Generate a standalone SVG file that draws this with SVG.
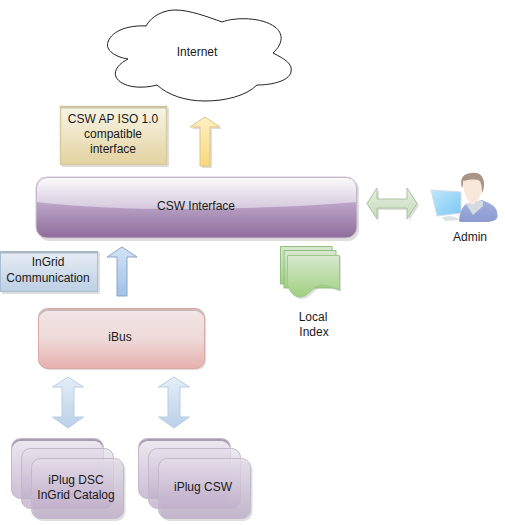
<svg xmlns="http://www.w3.org/2000/svg" width="505" height="525" viewBox="0 0 505 525">
<defs>
<linearGradient id="gP" x1="0" y1="0" x2="0" y2="1"><stop offset="0.4" stop-color="#bda8ca"/><stop offset="1" stop-color="#8f6c9b"/></linearGradient>
<linearGradient id="gPt" x1="0" y1="0" x2="0" y2="1"><stop offset="0" stop-color="#fbfafc"/><stop offset="1" stop-color="#d4c8dc"/></linearGradient>
<linearGradient id="gR" x1="0" y1="0" x2="0" y2="1"><stop offset="0" stop-color="#f1e6e6"/><stop offset="0.5" stop-color="#eedad9"/><stop offset="1" stop-color="#e6b0ae"/></linearGradient>
<linearGradient id="gY" x1="0" y1="0" x2="0" y2="1"><stop offset="0" stop-color="#f8f5e8"/><stop offset="1" stop-color="#e3d39f"/></linearGradient>
<linearGradient id="gB" x1="0" y1="0" x2="0" y2="1"><stop offset="0" stop-color="#e8eef5"/><stop offset="1" stop-color="#bccfe4"/></linearGradient>
<linearGradient id="gL" x1="0" y1="0" x2="0" y2="1"><stop offset="0" stop-color="#e6dfea"/><stop offset="1" stop-color="#b9a5c5"/></linearGradient>
<linearGradient id="gG" x1="0" y1="0" x2="0" y2="1"><stop offset="0" stop-color="#d8e8d0"/><stop offset="1" stop-color="#9fd07f"/></linearGradient>
<linearGradient id="aY" x1="0" y1="0" x2="0" y2="1"><stop offset="0" stop-color="#fdf0c4"/><stop offset="1" stop-color="#fbd77a"/></linearGradient>
<linearGradient id="aB" x1="0" y1="0" x2="0" y2="1"><stop offset="0" stop-color="#d3e3f5"/><stop offset="1" stop-color="#a0c1e8"/></linearGradient>
<linearGradient id="aD" x1="0" y1="0" x2="0" y2="1"><stop offset="0" stop-color="#e4eef8"/><stop offset="0.5" stop-color="#cfdfef"/><stop offset="1" stop-color="#b9d0e9"/></linearGradient>
<linearGradient id="aG" x1="0" y1="0" x2="0" y2="1"><stop offset="0" stop-color="#e6efe1"/><stop offset="1" stop-color="#c6dabc"/></linearGradient>
<linearGradient id="scr" x1="0" y1="0" x2="1" y2="1"><stop offset="0" stop-color="#bfe6fb"/><stop offset="1" stop-color="#7cc8f4"/></linearGradient>
<linearGradient id="sw" x1="0" y1="0" x2="0" y2="1"><stop offset="0" stop-color="#a3b1de"/><stop offset="1" stop-color="#8a9ad0"/></linearGradient>
<path id="ud" d="M0 -26L15.500 -16H6V14H15.500L0 25L-15.500 14H-6V-16H-15.500Z"/>
</defs>
<style>
text{font-family:"Liberation Sans",Arial,sans-serif;font-size:12px;fill:#1a1a1a;text-anchor:middle}
.s{fill:#000;opacity:.13}
.pl{fill:url(#gL);stroke:#c4b8cc;stroke-width:1;fill-opacity:.72}
</style>
<g id="connectors">
<g id="arrow-up-yellow">
<path class="s" d="M205 117L220 127H210V166H200V127H190Z" transform="translate(2,2)"/>
<path d="M205 117L220 127H210V166H200V127H190Z" fill="url(#aY)" stroke="#dcc688"/>
</g>
<g id="arrow-up-blue">
<path d="M122 247L137 257H127V296H117V257H107Z" fill="url(#aB)" stroke="#8aa6c8"/>
</g>
<g id="arrow-double-green">
<path class="s" d="M367 203.500L377 188V199H407V188L417 203.500L407 219V208H377V219Z" transform="translate(2,2)"/>
<path d="M367 203.500L377 188V199H407V188L417 203.500L407 219V208H377V219Z" fill="url(#aG)" stroke="#a9c49d"/>
</g>
<g id="arrow-double-left">
<use href="#ud" x="68" y="403" fill="url(#aD)" stroke="#b9cde3"/>
</g>
<g id="arrow-double-right">
<use href="#ud" x="174" y="403" fill="url(#aD)" stroke="#b9cde3"/>
</g>
</g>
<g id="internet">
<path d="M146 26C152 15 165 10 175 10C190 10 208 17 222 22C235 17 262 17 275 27C283 33 284 43 273 53C285 59 293 64 291 72C289 81 272 85 257 85C246 96 225 101 205 101C185 101 168 95 157 85C142 89 122 88 116 77C113 70 120 63 128 59C115 57 105 50 108 42C112 30 130 25 146 26Z" fill="#fff" stroke="#222" stroke-width="1"/>
<text x="197" y="56">Internet</text>
</g>
<g id="csw-ap-iso">
<rect x="62" y="108" width="107" height="59" class="s"/>
<rect x="60.500" y="106.500" width="106" height="58" fill="url(#gY)" stroke="#d8cba0" stroke-width="1.500"/>
<rect x="60" y="106" width="107" height="2.500" fill="#cdc3a0"/>
<text x="113" y="123">CSW AP ISO 1.0</text>
<text x="113" y="138">compatible</text>
<text x="113" y="153">interface</text>
</g>
<g id="csw-interface">
<rect x="38" y="179" width="321" height="62" rx="11" class="s"/>
<rect x="36" y="177" width="321" height="61" rx="11" fill="url(#gP)" stroke="#cfc6d4"/>
<path d="M37 202V188C37 182 42 178 47 178H346C352 178 356 182 356 188V202C300 207 230 209 170 209C120 209 70 206 37 202Z" fill="url(#gPt)"/>
<text x="196" y="210">CSW Interface</text>
</g>
<g id="ingrid-communication">
<rect x="2" y="252" width="98" height="42" class="s"/>
<rect x="0.500" y="251.500" width="97" height="40" fill="url(#gB)" stroke="#a9bdd4"/>
<rect x="0" y="251" width="98" height="2.500" fill="#aab7c6"/>
<text x="48" y="266">InGrid</text>
<text x="48" y="282">Communication</text>
</g>
<g id="ibus">
<rect x="40" y="310" width="166" height="60" rx="9" class="s"/>
<rect x="38.500" y="308.500" width="166" height="60" rx="9" fill="url(#gR)" stroke="#dca6a4"/>
<path d="M39 318C39 312 43 309 48 309H195C200 309 204 312 204 318C202 313 199 311 195 311H48C44 311 41 313 39 318Z" fill="#c9b8b8"/>
<text x="120" y="341">iBus</text>
</g>
<g id="iplug-dsc">
<rect x="33.500" y="461" width="92" height="60" rx="9" class="s"/>
<rect x="11.500" y="438.500" width="92" height="60" rx="9" class="pl"/>
<path d="M12 448C12 442 16 439 21 439H94C99 439 103 442 103 448C101 443 98 441 94 441H21C17 441 14 443 12 448Z" fill="#a99bb0"/>
<rect x="21.500" y="448.500" width="92" height="60" rx="9" class="pl"/>
<rect x="31.500" y="458.500" width="92" height="60" rx="9" class="pl"/>
<text x="76" y="484">iPlug DSC</text>
<text x="76" y="499">InGrid Catalog</text>
</g>
<g id="iplug-csw">
<rect x="160.500" y="461" width="92" height="60" rx="9" class="s"/>
<rect x="138.500" y="438.500" width="92" height="60" rx="9" class="pl"/>
<path d="M139 448C139 442 143 439 148 439H221C226 439 230 442 230 448C228 443 225 441 221 441H148C144 441 141 443 139 448Z" fill="#a99bb0"/>
<rect x="148.500" y="448.500" width="92" height="60" rx="9" class="pl"/>
<rect x="158.500" y="458.500" width="92" height="60" rx="9" class="pl"/>
<text x="203" y="491">iPlug CSW</text>
</g>
<g id="local-index">
<path class="s" d="M287 255H339V290C332 287 326 285 320 285C312 287 308 297 300 297C294 297 290 292 287 285Z" transform="translate(2,2)"/>
<path d="M280.500 246.500H332V284H280.500Z" fill="url(#gG)" stroke="#8fc07e"/>
<path d="M284 250.500H336V288H284Z" fill="url(#gG)" stroke="#8fc07e"/>
<path d="M287.500 255.500H339.500V290C332 287 326 285 320 285C312 287 308 297 300 297C294 297 290 292 287.500 285Z" fill="url(#gG)" stroke="#9fc890"/>
<text x="313" y="321">Local</text>
<text x="314" y="336">Index</text>
</g>
<g id="admin">
<path d="M431 190L461 192V213L437 216Z" fill="url(#scr)" stroke="#d4dde3"/>
<path d="M442 217L450 216L458 218V220L445 221Z" fill="#dde2e6"/>
<path d="M459 220C460 212 462 207 466 204L482 200C490 203 497 207 497 212C498 217 498 219 493 221C490 222 486 222 484 222H462C460 222 459 222 459 220Z" fill="url(#sw)"/>
<path d="M466 204L473 201H483L483 206L473 215Z" fill="#d5dce0"/>
<path d="M463 183C463 176 469 176 475 176C480 176 482 178 482 184C482 192 480 198 477 201L473 205C468 203 463 193 463 183Z" fill="#f9e7dc"/>
<path d="M462 188C459 178 464 173 472 173C480 172 484 177 484 184C484 188 483 192 482 193C482 185 481 181 478 180C472 179 468 180 463 181C463 184 463 186 462 188Z" fill="#a79685"/>
<text x="470" y="241">Admin</text>
</g>
</svg>
